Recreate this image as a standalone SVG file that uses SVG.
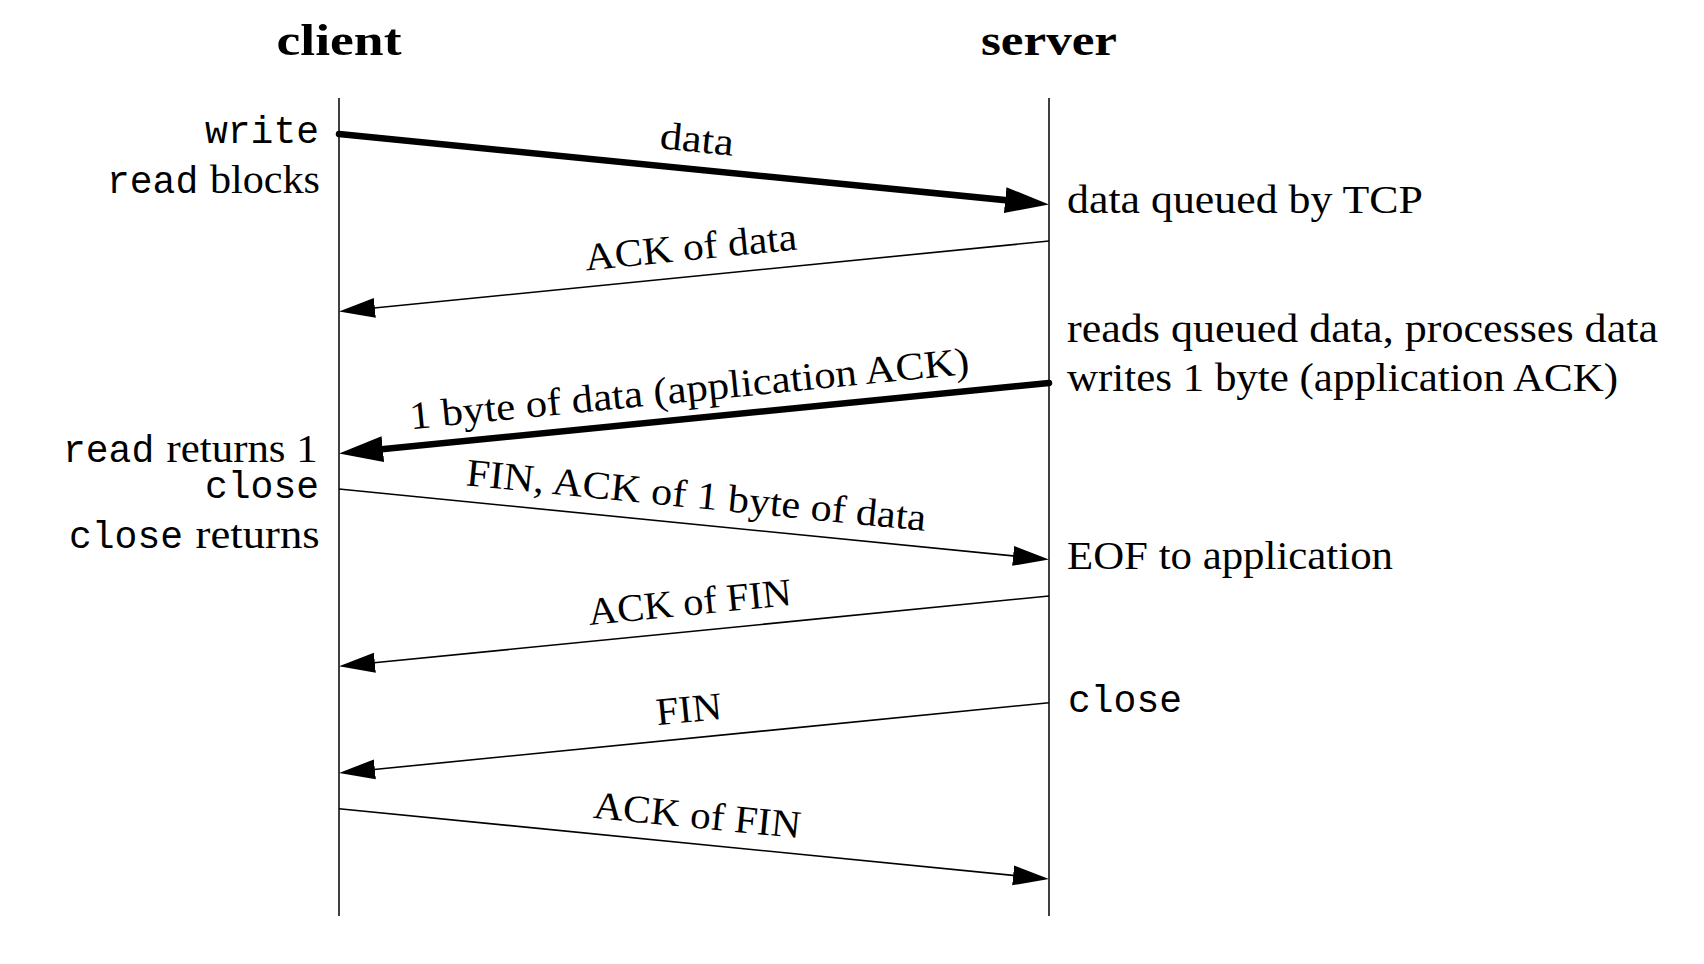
<svg xmlns="http://www.w3.org/2000/svg" width="1704" height="964" viewBox="0 0 1704 964">
<style>
.hdr{font-family:"Liberation Serif",serif;font-weight:bold;font-size:44px;fill:#000}
.lbl{font-family:"Liberation Serif",serif;font-size:39px;fill:#000}
.mono{font-family:"Liberation Mono",monospace;font-size:38px;fill:#000}
.life{stroke:#000;stroke-width:1.5;fill:none}
.thin{stroke:#000;stroke-width:1.6;fill:none;marker-end:url(#ah)}
.thick{stroke:#000;stroke-width:6.5;stroke-linecap:round;fill:none;marker-end:url(#ahb)}
</style>
<defs>
<marker id="ah" markerUnits="userSpaceOnUse" markerWidth="38" markerHeight="22" refX="11" refY="10" orient="auto" viewBox="0 0 38 20"><path d="M0,0 L36,10 L0,20 z" fill="#000"/></marker>
<marker id="ahb" markerUnits="userSpaceOnUse" markerWidth="46" markerHeight="28" refX="14" refY="13" orient="auto" viewBox="0 0 46 26"><path d="M0,0 L44,13 L0,26 z" fill="#000"/></marker>
</defs>
<rect width="1704" height="964" fill="#fff"/>
<g id="client">
<text class="hdr" x="339" y="55" text-anchor="middle" textLength="125" lengthAdjust="spacingAndGlyphs">client</text>
<line class="life" x1="339" y1="98" x2="339" y2="916"/>
<text class="mono" x="319" y="143" text-anchor="end">write</text>
<text class="mono" x="107" y="193">read</text>
<text class="lbl" x="210" y="193" textLength="110" lengthAdjust="spacingAndGlyphs">blocks</text>
<text class="mono" x="63" y="462">read</text>
<text class="lbl" x="166.6" y="462" textLength="151" lengthAdjust="spacingAndGlyphs">returns 1</text>
<text class="mono" x="319" y="498" text-anchor="end">close</text>
<text class="mono" x="69" y="548">close</text>
<text class="lbl" x="195.6" y="548" textLength="124" lengthAdjust="spacingAndGlyphs">returns</text>
</g>
<g id="server">
<text class="hdr" x="1049" y="55" text-anchor="middle" textLength="136" lengthAdjust="spacingAndGlyphs">server</text>
<line class="life" x1="1049" y1="98" x2="1049" y2="916"/>
<text class="lbl" x="1067" y="213" textLength="356" lengthAdjust="spacingAndGlyphs">data queued by TCP</text>
<text class="lbl" x="1067" y="342" textLength="591" lengthAdjust="spacingAndGlyphs">reads queued data, processes data</text>
<text class="lbl" x="1067" y="391" textLength="551" lengthAdjust="spacingAndGlyphs">writes 1 byte (application ACK)</text>
<text class="lbl" x="1067" y="569" textLength="326" lengthAdjust="spacingAndGlyphs">EOF to application</text>
<text class="mono" x="1068" y="712">close</text>
</g>
<g id="connectors">
<line class="thick" x1="339" y1="134" x2="1019.1" y2="201.5"/>
<text class="lbl" transform="translate(695.7,152) rotate(5.65)" text-anchor="middle" textLength="74" lengthAdjust="spacingAndGlyphs">data</text>
<line class="thin" x1="1049" y1="241" x2="363.9" y2="309"/>
<text class="lbl" transform="translate(692,260) rotate(-5.67)" text-anchor="middle" textLength="213" lengthAdjust="spacingAndGlyphs">ACK of data</text>
<line class="thick" x1="1049" y1="383" x2="368.9" y2="450.5"/>
<text class="lbl" transform="translate(690.5,401.5) rotate(-5.67)" text-anchor="middle" textLength="562" lengthAdjust="spacingAndGlyphs">1 byte of data (application ACK)</text>
<line class="thin" x1="339" y1="489" x2="1024.1" y2="557"/>
<text class="lbl" transform="translate(695,508) rotate(5.67)" text-anchor="middle" textLength="462" lengthAdjust="spacingAndGlyphs">FIN, ACK of 1 byte of data</text>
<line class="thin" x1="1049" y1="596" x2="363.9" y2="663.8"/>
<text class="lbl" transform="translate(691,615) rotate(-5.65)" text-anchor="middle" textLength="204" lengthAdjust="spacingAndGlyphs">ACK of FIN</text>
<line class="thin" x1="1049" y1="702.7" x2="363.9" y2="770.5"/>
<text class="lbl" transform="translate(690,722) rotate(-5.65)" text-anchor="middle" textLength="66" lengthAdjust="spacingAndGlyphs">FIN</text>
<line class="thin" x1="339" y1="808.7" x2="1024.1" y2="876.5"/>
<text class="lbl" transform="translate(696,828) rotate(5.65)" text-anchor="middle" textLength="208" lengthAdjust="spacingAndGlyphs">ACK of FIN</text>
</g>
</svg>
